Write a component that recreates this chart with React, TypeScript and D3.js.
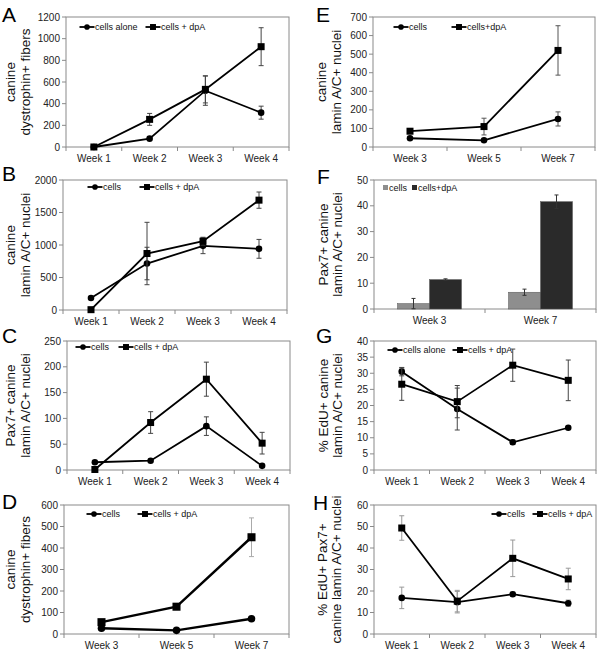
import React from "react";
import * as d3 from "d3";

const FONT = "Liberation Sans, Arial, Helvetica, sans-serif";

// Categories
const weeks4 = ["Week 1", "Week 2", "Week 3", "Week 4"];
const weeks357 = ["Week 3", "Week 5", "Week 7"];
const weeks37 = ["Week 3", "Week 7"];

// Panel A
const aCells = [0, 77, 520, 317];
const aCellsErr = [0, 0, 135, 60];
const aDpa = [0, 255, 532, 926];
const aDpaErr = [0, 55, 125, 175];
// Panel B
const bCells = [185, 715, 987, 941];
const bCellsErr = [0, 250, 120, 145];
const bDpa = [5, 869, 1059, 1690];
const bDpaErr = [0, 480, 60, 125];
// Panel C
const cCells = [15, 18, 85, 8];
const cCellsErr = [0, 0, 18, 0];
const cDpa = [1, 92, 176, 52];
const cDpaErr = [0, 21, 33, 21];
// Panel D
const dCells = [27, 17, 71];
const dCellsErr = [0, 0, 6];
const dDpa = [55, 127, 450];
const dDpaErr = [5, 5, 90];
// Panel E
const eCells = [47, 36, 151];
const eCellsErr = [0, 0, 38];
const eDpa = [85, 110, 520];
const eDpaErr = [8, 45, 133];
// Panel F (bars)
const fCells = [2.1, 6.5];
const fCellsErr = [2, 1.2];
const fDpa = [11.4, 41.6];
const fDpaErr = [0.3, 2.6];
// Panel G
const gCells = [30.5, 18.9, 8.6, 13.1];
const gCellsErr = [1.3, 6.5, 0.7, 0.4];
const gDpa = [26.6, 21.2, 32.5, 27.8];
const gDpaErr = [5, 5, 5, 6.3];
// Panel H
const hCells = [16.8, 14.8, 18.5, 14.3];
const hCellsErr = [5, 5, 1, 1.5];
const hDpa = [49.3, 15.3, 35.2, 25.6];
const hDpaErr = [5.7, 5, 8.5, 5];

type Series = { vals: number[]; errs: number[]; marker: "circle" | "square"; label: string; legendX: number };

type LineProps = {
  x0: number; x1: number; y0: number; y1: number;
  cats: string[]; yMax: number; yStep: number;
  series: Series[]; legendY: number;
  title: string[]; titleX: number[];
  letter: string; letterX: number; letterY: number;
  errColor: string; lineW: number; mScale: number;
};

function Marker({ kind, cx, cy, s }: { kind: string; cx: number; cy: number; s: number }) {
  if (kind === "circle") return <circle cx={cx} cy={cy} r={3.3 * s} fill="#000" />;
  const w = 7 * s;
  return <rect x={cx - w / 2} y={cy - w / 2} width={w} height={w} fill="#000" />;
}

function Frame({ x0, x1, y0, y1, cats, yMax, yStep, title, titleX, letter, letterX, letterY }: any) {
  const x = d3.scaleBand().domain(cats).range([x0, x1]);
  const y = d3.scaleLinear().domain([0, yMax]).range([y1, y0]);
  const ticks = d3.range(0, yMax + yStep / 2, yStep);
  const bounds = cats.map((c: string) => x(c) as number).concat([x1]);
  const midY = (y0 + y1) / 2;
  return (
    <g>
      <rect x={x0} y={y0} width={x1 - x0} height={y1 - y0} fill="none" stroke="#8a8a8a" strokeWidth={1} />
      {ticks.map((t) => (
        <g key={t}>
          <line x1={x0 - 4} x2={x0} y1={y(t)} y2={y(t)} stroke="#8a8a8a" />
          <text x={x0 - 6} y={y(t)} dy="0.35em" textAnchor="end" fontSize={10} fill="#222">{t}</text>
        </g>
      ))}
      {bounds.map((b: number, i: number) => (
        <line key={i} x1={b} x2={b} y1={y1} y2={y1 + 4} stroke="#8a8a8a" />
      ))}
      {cats.map((c: string) => (
        <text key={c} x={(x(c) as number) + x.bandwidth() / 2} y={y1 + 15} textAnchor="middle" fontSize={10} fill="#222">{c}</text>
      ))}
      {title.map((t: string, i: number) => (
        <text key={i} transform={`translate(${titleX[i]},${midY}) rotate(-90)`} textAnchor="middle" fontSize={13.5} fill="#111">{t}</text>
      ))}
      <text x={letterX} y={letterY} fontSize={21} fill="#000">{letter}</text>
    </g>
  );
}

function LinePanel(p: LineProps) {
  const x = d3.scaleBand().domain(p.cats).range([p.x0, p.x1]);
  const y = d3.scaleLinear().domain([0, p.yMax]).range([p.y1, p.y0]);
  const cx = (c: string) => (x(c) as number) + x.bandwidth() / 2;
  const line = d3.line<number>().x((_, i) => cx(p.cats[i])).y((v) => y(v));
  return (
    <g>
      <Frame {...p} />
      {p.series.map((s, si) => (
        <g key={si}>
          {s.vals.map((v, i) =>
            s.errs[i] > 0 ? (
              <g key={i} stroke={p.errColor} strokeWidth={1}>
                <line x1={cx(p.cats[i])} x2={cx(p.cats[i])} y1={y(v - s.errs[i])} y2={y(v + s.errs[i])} />
                <line x1={cx(p.cats[i]) - 2.5} x2={cx(p.cats[i]) + 2.5} y1={y(v - s.errs[i])} y2={y(v - s.errs[i])} />
                <line x1={cx(p.cats[i]) - 2.5} x2={cx(p.cats[i]) + 2.5} y1={y(v + s.errs[i])} y2={y(v + s.errs[i])} />
              </g>
            ) : null
          )}
          <path d={line(s.vals) as string} fill="none" stroke="#000" strokeWidth={p.lineW} />
          {s.vals.map((v, i) => (
            <Marker key={i} kind={s.marker} cx={cx(p.cats[i])} cy={y(v)} s={p.mScale} />
          ))}
        </g>
      ))}
      {p.series.map((s, si) => (
        <g key={"l" + si}>
          <line x1={s.legendX - 7.5} x2={s.legendX + 7.5} y1={p.legendY} y2={p.legendY} stroke="#000" strokeWidth={1.8} />
          <Marker kind={s.marker} cx={s.legendX} cy={p.legendY} s={0.85} />
          <text x={s.legendX + 8} y={p.legendY} dy="0.35em" fontSize={9} fill="#111">{s.label}</text>
        </g>
      ))}
    </g>
  );
}

function BarPanel() {
  const x0 = 374, x1 = 596, y0 = 180, y1 = 309;
  const x = d3.scaleBand().domain(weeks37).range([x0, x1]);
  const groupW = 64;
  const names = ["cells", "cells+dpA"];
  const xi = d3.scaleBand().domain(names).range([0, groupW]);
  const y = d3.scaleLinear().domain([0, 50]).range([y1, y0]);
  const data = [
    { name: "cells", vals: fCells, errs: fCellsErr, color: "#8e8e8e" },
    { name: "cells+dpA", vals: fDpa, errs: fDpaErr, color: "#2a2a2a" },
  ];
  return (
    <g>
      <Frame x0={x0} x1={x1} y0={y0} y1={y1} cats={weeks37} yMax={50} yStep={10}
        title={["Pax7+ canine", "lamin A/C+ nuclei"]} titleX={[328, 342]}
        letter="F" letterX={317} letterY={184} />
      {data.map((s) =>
        s.vals.map((v, i) => {
          const bx = (x(weeks37[i]) as number) + x.bandwidth() / 2 - groupW / 2 + (xi(s.name) as number);
          const mx = bx + xi.bandwidth() / 2;
          return (
            <g key={s.name + i}>
              <rect x={bx} y={y(v)} width={xi.bandwidth()} height={y1 - y(v)} fill={s.color} stroke="#555" strokeWidth={0.5} />
              <g stroke="#333" strokeWidth={1}>
                <line x1={mx} x2={mx} y1={y(v - s.errs[i])} y2={y(v + s.errs[i])} />
                <line x1={mx - 2} x2={mx + 2} y1={y(v - s.errs[i])} y2={y(v - s.errs[i])} />
                <line x1={mx - 2} x2={mx + 2} y1={y(v + s.errs[i])} y2={y(v + s.errs[i])} />
              </g>
            </g>
          );
        })
      )}
      {data.map((s, i) => {
        const lx = [383, 412][i];
        return (
          <g key={"lg" + i}>
            <rect x={lx} y={185} width={5} height={5} fill={s.color} />
            <text x={lx + 6} y={187.5} dy="0.35em" fontSize={9} fill="#111">{s.name}</text>
          </g>
        );
      })}
    </g>
  );
}

export default function App() {
  const panels: LineProps[] = [
    {
      x0: 66, x1: 289, y0: 17, y1: 147, cats: weeks4, yMax: 1200, yStep: 200,
      series: [
        { vals: aCells, errs: aCellsErr, marker: "circle", label: "cells alone", legendX: 87 },
        { vals: aDpa, errs: aDpaErr, marker: "square", label: "cells + dpA", legendX: 153 },
      ],
      legendY: 27, title: ["canine", "dystrophin+ fibers"], titleX: [15, 29.5],
      letter: "A", letterX: 2, letterY: 22, errColor: "#444", lineW: 1.8, mScale: 1,
    },
    {
      x0: 63, x1: 287, y0: 180, y1: 310, cats: weeks4, yMax: 2000, yStep: 500,
      series: [
        { vals: bCells, errs: bCellsErr, marker: "circle", label: "cells", legendX: 95 },
        { vals: bDpa, errs: bDpaErr, marker: "square", label: "cells + dpA", legendX: 147 },
      ],
      legendY: 187, title: ["canine", "lamin A/C+ nuclei"], titleX: [15, 30],
      letter: "B", letterX: 2, letterY: 181, errColor: "#444", lineW: 1.8, mScale: 1,
    },
    {
      x0: 67, x1: 290, y0: 341, y1: 470, cats: weeks4, yMax: 250, yStep: 50,
      series: [
        { vals: cCells, errs: cCellsErr, marker: "circle", label: "cells", legendX: 83 },
        { vals: cDpa, errs: cDpaErr, marker: "square", label: "cells + dpA", legendX: 126 },
      ],
      legendY: 347, title: ["Pax7+ canine", "lamin A/C+ nuclei"], titleX: [15, 30],
      letter: "C", letterX: 2, letterY: 343, errColor: "#444", lineW: 1.8, mScale: 1,
    },
    {
      x0: 64, x1: 289, y0: 505, y1: 634, cats: weeks357, yMax: 600, yStep: 100,
      series: [
        { vals: dCells, errs: dCellsErr, marker: "circle", label: "cells", legendX: 94 },
        { vals: dDpa, errs: dDpaErr, marker: "square", label: "cells + dpA", legendX: 145 },
      ],
      legendY: 514, title: ["canine", "dystrophin+ fibers"], titleX: [15, 30],
      letter: "D", letterX: 2, letterY: 509, errColor: "#aaa", lineW: 2.4, mScale: 1.15,
    },
    {
      x0: 373, x1: 595, y0: 17, y1: 147, cats: weeks357, yMax: 700, yStep: 100,
      series: [
        { vals: eCells, errs: eCellsErr, marker: "circle", label: "cells", legendX: 401 },
        { vals: eDpa, errs: eDpaErr, marker: "square", label: "cells+dpA", legendX: 459 },
      ],
      legendY: 27, title: ["canine", "lamin A/C+ nuclei"], titleX: [326, 341],
      letter: "E", letterX: 316, letterY: 22, errColor: "#555", lineW: 1.8, mScale: 1,
    },
    {
      x0: 374, x1: 596, y0: 341, y1: 470, cats: weeks4, yMax: 40, yStep: 5,
      series: [
        { vals: gCells, errs: gCellsErr, marker: "circle", label: "cells alone", legendX: 395 },
        { vals: gDpa, errs: gDpaErr, marker: "square", label: "cells + dpA", legendX: 460 },
      ],
      legendY: 350, title: ["% EdU+ canine", "lamin A/C+ nuclei"], titleX: [328, 342],
      letter: "G", letterX: 316, letterY: 343, errColor: "#444", lineW: 1.8, mScale: 1,
    },
    {
      x0: 374, x1: 596, y0: 505, y1: 634, cats: weeks4, yMax: 60, yStep: 10,
      series: [
        { vals: hCells, errs: hCellsErr, marker: "circle", label: "cells", legendX: 499 },
        { vals: hDpa, errs: hDpaErr, marker: "square", label: "cells + dpA", legendX: 540 },
      ],
      legendY: 514, title: ["% EdU+ Pax7+", "canine lamin A/C+ nuclei"], titleX: [327, 341],
      letter: "H", letterX: 313, letterY: 510, errColor: "#999", lineW: 1.8, mScale: 1,
    },
  ];
  return (
    <svg width={600} height={662} style={{ position: "absolute", left: 0, top: 0, background: "#fff" }}
      fontFamily={FONT}>
      <rect width={600} height={662} fill="#fff" />
      {panels.map((p, i) => <LinePanel key={i} {...p} />)}
      <BarPanel />
    </svg>
  );
}
